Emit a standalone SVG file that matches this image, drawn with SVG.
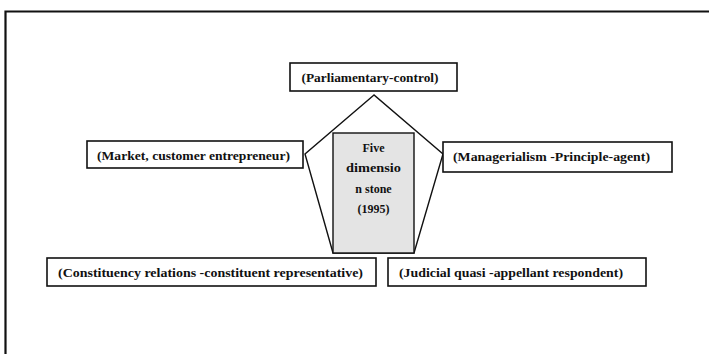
<svg xmlns="http://www.w3.org/2000/svg" width="709" height="354" viewBox="0 0 709 354">
<style>
.box{fill:#fff;stroke:#111;stroke-width:1.6}
.lbl{font-family:"Liberation Serif","DejaVu Serif",serif;font-weight:bold;font-size:12px;fill:#111;text-anchor:middle}
.edge{fill:none;stroke:#111;stroke-width:1.4;stroke-linejoin:miter}
</style>
<rect width="709" height="354" fill="#fff"/>
<path d="M5.5 354 V11.5 H709" fill="none" stroke="#111" stroke-width="2.2"/>
<g id="connectors">
<polygon class="edge" points="374,95 305,154 333,253 414,253 443,154"/>
</g>
<g id="center">
<rect x="333" y="133" width="81" height="120" fill="#e4e4e4" stroke="#111" stroke-width="1.4"/>
<text class="lbl" x="373.5" y="152">Five</text>
<text class="lbl" x="373.5" y="172" textLength="55" lengthAdjust="spacingAndGlyphs">dimensio</text>
<text class="lbl" x="373.5" y="193">n stone</text>
<text class="lbl" x="373.5" y="213">(1995)</text>
</g>
<g id="parliamentary">
<rect class="box" x="290" y="63" width="167" height="28"/>
<text class="lbl" x="370" y="82" textLength="137" lengthAdjust="spacingAndGlyphs">(Parliamentary-control)</text>
</g>
<g id="market">
<rect class="box" x="87" y="141" width="216" height="27"/>
<text class="lbl" x="193.5" y="160" textLength="193" lengthAdjust="spacingAndGlyphs">(Market, customer entrepreneur)</text>
</g>
<g id="managerialism">
<rect class="box" x="443" y="142" width="229" height="30"/>
<text class="lbl" x="551.5" y="161" textLength="197" lengthAdjust="spacingAndGlyphs">(Managerialism -Principle-agent)</text>
</g>
<g id="constituency">
<rect class="box" x="47" y="258" width="329" height="28"/>
<text class="lbl" x="210.5" y="277" textLength="305" lengthAdjust="spacingAndGlyphs">(Constituency relations -constituent representative)</text>
</g>
<g id="judicial">
<rect class="box" x="388" y="258" width="258" height="28"/>
<text class="lbl" x="511" y="277" textLength="224" lengthAdjust="spacingAndGlyphs">(Judicial quasi -appellant respondent)</text>
</g>
</svg>
